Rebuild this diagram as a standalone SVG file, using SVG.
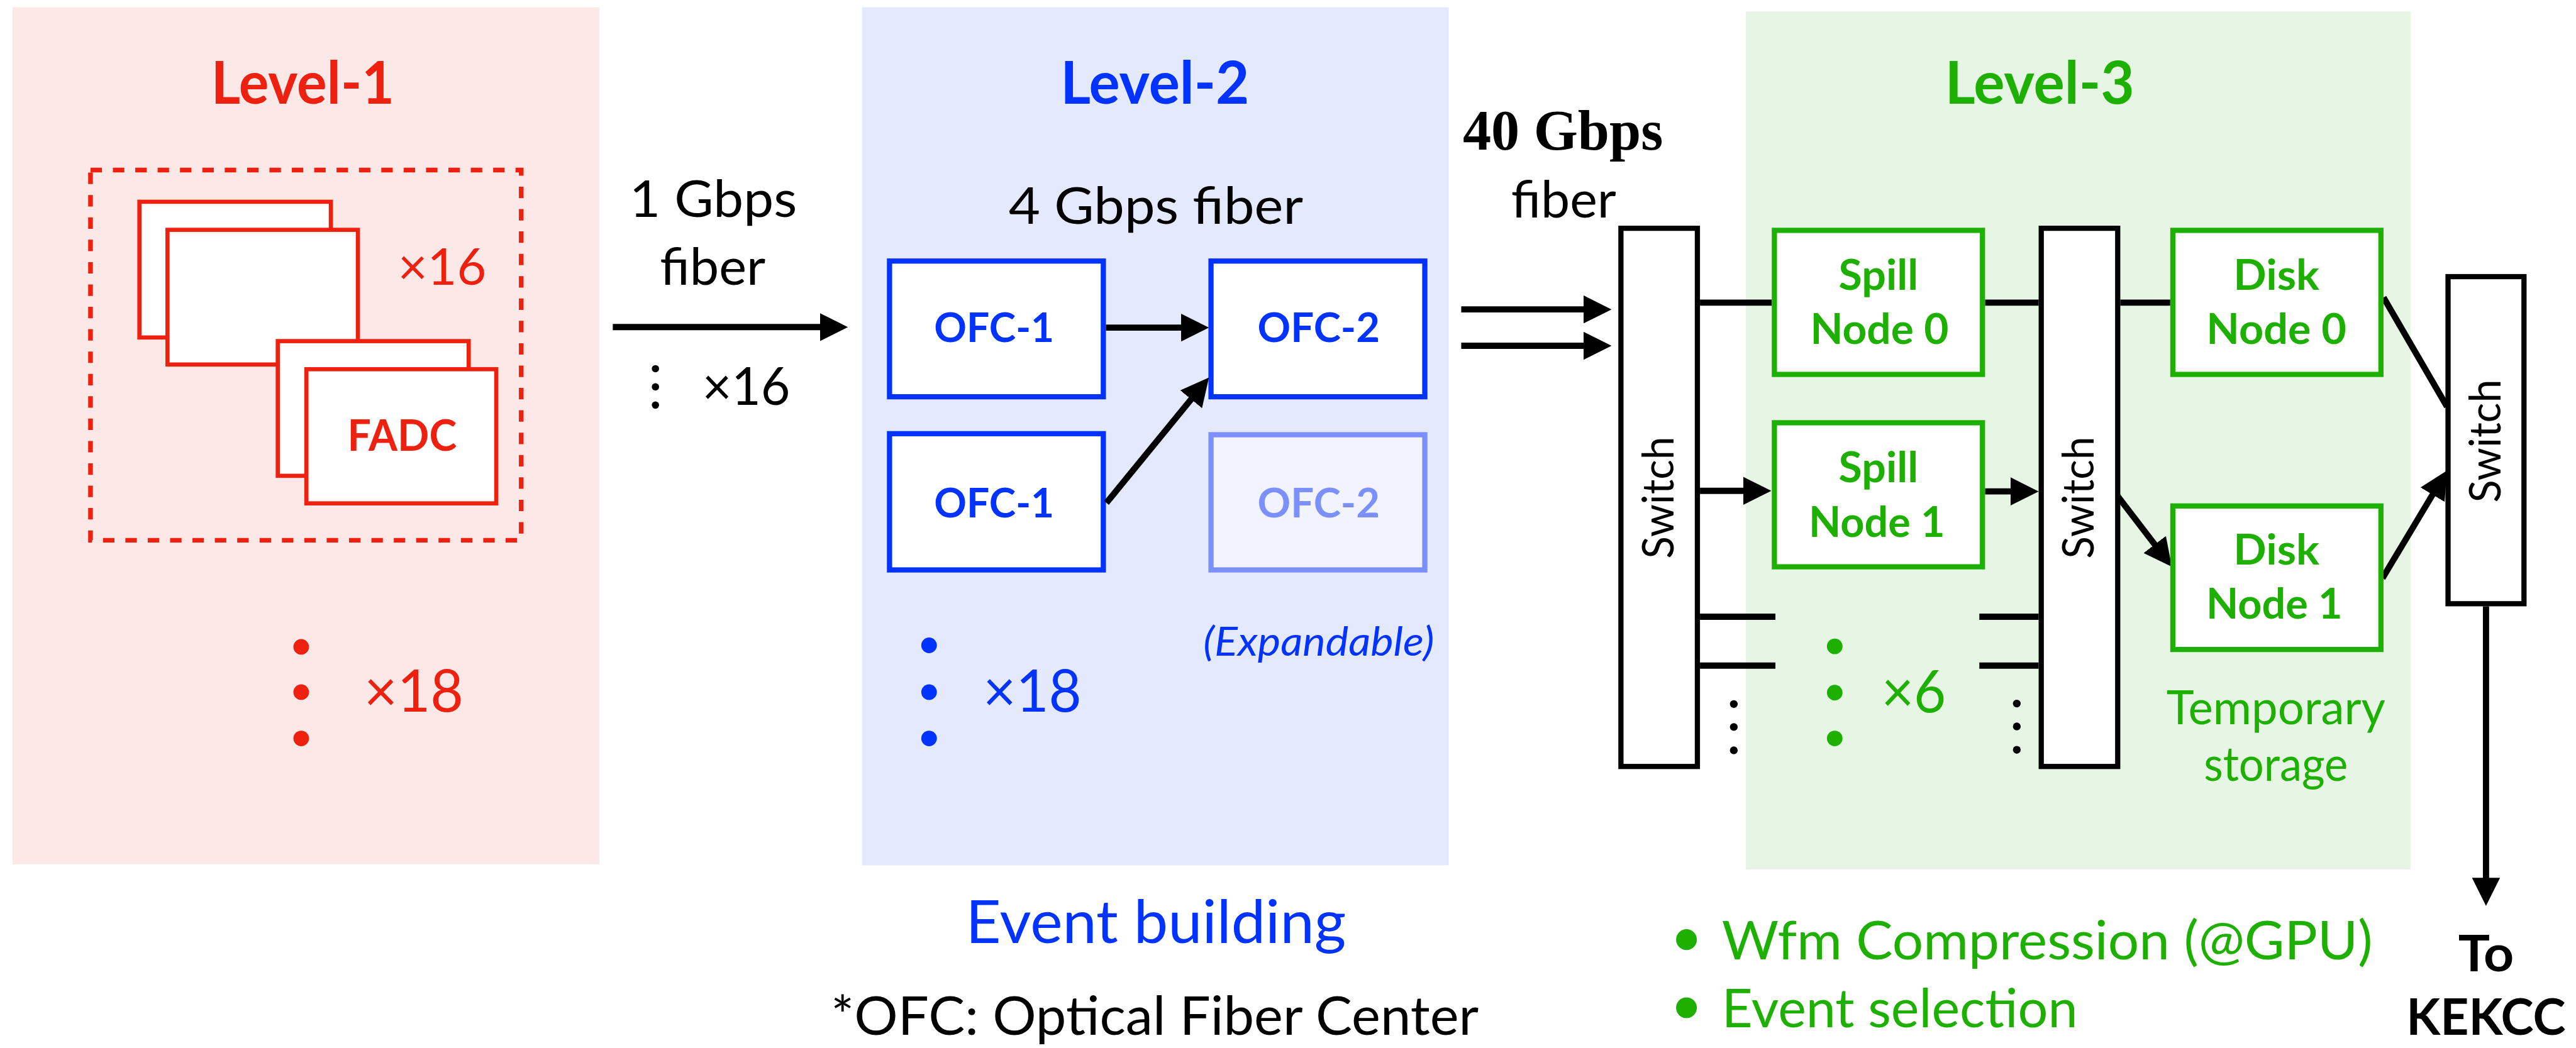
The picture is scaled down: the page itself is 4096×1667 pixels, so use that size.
<svg xmlns="http://www.w3.org/2000/svg" width="4096" height="1667" viewBox="0 0 4096 1667">
<style>
.t{font-family:Lato,"Open Sans","DejaVu Sans",sans-serif}
.b{font-weight:bold}
.i{font-style:italic}
.m{text-anchor:middle}
.red{fill:#ee2010}
.blue{fill:#0033ff}
.green{fill:#1eb000}
.blk{fill:#000}
.faded{fill:#7b8ffd}
.rbox{fill:#fff;stroke:#ee2010;stroke-width:8}
.bbox{fill:#fff;stroke:#0033ff;stroke-width:10}
.gbox{fill:#fff;stroke:#1eb000;stroke-width:10}
.sw{fill:#fff;stroke:#000;stroke-width:10}
.ln{stroke:#000;stroke-width:12;fill:none}
.ar{stroke:#000;stroke-width:12;fill:none;marker-end:url(#ah)}
</style>
<defs>
<marker id="ah" markerUnits="userSpaceOnUse" viewBox="0 0 54 54" refX="14" refY="27" markerWidth="54" markerHeight="54" orient="auto"><path d="M0,0 L54,27 L0,54 z" fill="#000"/></marker>
</defs>
<rect width="4096" height="1667" fill="#fff"/>
<g transform="scale(0.827141)">
<g id="level1">
<rect x="24" y="14" width="1128" height="1648" fill="#fce8e7"/>
<text class="t b m red" x="582" y="200" font-size="113" textLength="352" lengthAdjust="spacingAndGlyphs">Level-1</text>
<rect x="174" y="327" width="828" height="712" fill="none" stroke="#ee2010" stroke-width="9" stroke-dasharray="22 21"/>
<rect class="rbox" x="268" y="388" width="368" height="261"/>
<rect class="rbox" x="322" y="442" width="366" height="259"/>
<rect class="rbox" x="534" y="656" width="367" height="259"/>
<rect class="rbox" x="589" y="710" width="365" height="258"/>
<text class="t b m red" x="773" y="867" font-size="84" textLength="210" lengthAdjust="spacingAndGlyphs">FADC</text>
<text class="t red" x="765" y="548" font-size="98" textLength="170" lengthAdjust="spacingAndGlyphs">×16</text>
<circle class="red" cx="579" cy="1244" r="15"/>
<circle class="red" cx="579" cy="1331" r="15"/>
<circle class="red" cx="579" cy="1420" r="15"/>
<text class="t red" x="700" y="1368" font-size="112" textLength="191" lengthAdjust="spacingAndGlyphs">×18</text>
</g>
<g id="level2">
<rect x="1657" y="14" width="1128" height="1650" fill="#e4e9fd"/>
<text class="t b m blue" x="2220" y="200" font-size="113" textLength="363" lengthAdjust="spacingAndGlyphs">Level-2</text>
<text class="t m blk" x="2222" y="431" font-size="98" textLength="566" lengthAdjust="spacingAndGlyphs">4 Gbps fiber</text>
<text class="t i m blue" x="2535" y="1261" font-size="77" textLength="444" lengthAdjust="spacingAndGlyphs">(Expandable)</text>
<circle class="blue" cx="1786" cy="1241" r="15"/>
<circle class="blue" cx="1786" cy="1331" r="15"/>
<circle class="blue" cx="1786" cy="1420" r="15"/>
<text class="t blue" x="1890" y="1368" font-size="112" textLength="189" lengthAdjust="spacingAndGlyphs">×18</text>
</g>
<g id="ofc1a"><rect class="bbox" x="1710" y="502" width="411" height="261"/><text class="t b m blue" x="1911" y="658" font-size="78" textLength="231" lengthAdjust="spacingAndGlyphs">OFC-1</text></g>
<g id="ofc2a"><rect class="bbox" x="2328" y="502" width="411" height="261"/><text class="t b m blue" x="2535" y="658" font-size="78" textLength="235" lengthAdjust="spacingAndGlyphs">OFC-2</text></g>
<g id="ofc1b"><rect class="bbox" x="1710" y="834" width="411" height="262"/><text class="t b m blue" x="1911" y="995" font-size="78" textLength="231" lengthAdjust="spacingAndGlyphs">OFC-1</text></g>
<g id="ofc2b"><rect x="2328" y="836" width="411" height="260" fill="#f1f3fe" stroke="#7b8ffd" stroke-width="10"/><text class="t b m faded" x="2535" y="995" font-size="78" textLength="235" lengthAdjust="spacingAndGlyphs">OFC-2</text></g>
<g id="level3">
<rect x="3356" y="22" width="1278" height="1650" fill="#e7f6e4"/>
<text class="t b m green" x="3921" y="200" font-size="113" textLength="364" lengthAdjust="spacingAndGlyphs">Level-3</text>
<circle class="green" cx="3527" cy="1243" r="15"/>
<circle class="green" cx="3527" cy="1332" r="15"/>
<circle class="green" cx="3527" cy="1420" r="15"/>
<text class="t green" x="3617" y="1370" font-size="112" textLength="124" lengthAdjust="spacingAndGlyphs">×6</text>
<text class="t m green" x="4375" y="1393" font-size="91" textLength="421" lengthAdjust="spacingAndGlyphs">Temporary</text>
<text class="t m green" x="4375" y="1502" font-size="91" textLength="277" lengthAdjust="spacingAndGlyphs">storage</text>
</g>
<g id="connectors">
<line class="ar" x1="1178" y1="629" x2="1590" y2="629"/>
<line class="ar" x1="2126" y1="630" x2="2284" y2="630"/>
<line class="ar" x1="2127" y1="967" x2="2298.7" y2="757"/>
<line class="ar" x1="2809" y1="595" x2="3058" y2="595"/>
<line class="ar" x1="2809" y1="665" x2="3058" y2="665"/>
<line class="ln" x1="3268" y1="582" x2="3406" y2="582"/>
<line class="ln" x1="3816" y1="582" x2="3919" y2="582"/>
<line class="ln" x1="4076" y1="582" x2="4172" y2="582"/>
<line class="ar" x1="3268" y1="944" x2="3365" y2="944"/>
<line class="ar" x1="3816" y1="945" x2="3879" y2="945"/>
<line class="ar" x1="4070" y1="953" x2="4150.7" y2="1058.2"/>
<line class="ln" x1="4582" y1="572" x2="4704" y2="782"/>
<line class="ar" x1="4580" y1="1112" x2="4683.4" y2="939.3"/>
<line class="ar" x1="4779" y1="1166" x2="4779" y2="1702"/>
<line class="ln" x1="3268" y1="1186" x2="3413" y2="1186"/>
<line class="ln" x1="3268" y1="1280" x2="3413" y2="1280"/>
<line class="ln" x1="3805" y1="1186" x2="3919" y2="1186"/>
<line class="ln" x1="3805" y1="1280" x2="3919" y2="1280"/>
</g>
<g id="labels">
<text class="t m blk" x="1371" y="417" font-size="98" textLength="322" lengthAdjust="spacingAndGlyphs">1 Gbps</text>
<text class="t m blk" x="1370" y="548" font-size="98" textLength="203" lengthAdjust="spacingAndGlyphs">fiber</text>
<circle class="blk" cx="1260" cy="709" r="7"/>
<circle class="blk" cx="1260" cy="744" r="7"/>
<circle class="blk" cx="1260" cy="779" r="7"/>
<text class="t blk" x="1350" y="778" font-size="100" textLength="169" lengthAdjust="spacingAndGlyphs">×16</text>
<text class="blk" x="2812" y="288" font-family="'Liberation Serif',serif" font-weight="bold" font-size="109" textLength="385" lengthAdjust="spacingAndGlyphs">40 Gbps</text>
<text class="t blk" x="2905" y="418" font-size="98" textLength="202" lengthAdjust="spacingAndGlyphs">fiber</text>
<circle class="blk" cx="3333" cy="1354" r="7.5"/>
<circle class="blk" cx="3333" cy="1398" r="7.5"/>
<circle class="blk" cx="3333" cy="1443" r="7.5"/>
<circle class="blk" cx="3877" cy="1353" r="7.5"/>
<circle class="blk" cx="3877" cy="1397" r="7.5"/>
<circle class="blk" cx="3877" cy="1442" r="7.5"/>
<text class="t m blue" x="2222" y="1813" font-size="114" textLength="731" lengthAdjust="spacingAndGlyphs">Event building</text>
<text class="t m blk" x="2220" y="1990" font-size="102" textLength="1245" lengthAdjust="spacingAndGlyphs">*OFC: Optical Fiber Center</text>
<circle class="green" cx="3242" cy="1807" r="20"/>
<circle class="green" cx="3242" cy="1938" r="20"/>
<text class="t green" x="3310" y="1845" font-size="102" textLength="1251" lengthAdjust="spacingAndGlyphs">Wfm Compression (@GPU)</text>
<text class="t green" x="3310" y="1975" font-size="102" textLength="684" lengthAdjust="spacingAndGlyphs">Event selection</text>
<text class="t b m blk" x="4779" y="1868" font-size="98" textLength="107" lengthAdjust="spacingAndGlyphs">To</text>
<text class="t b m blk" x="4779" y="1990" font-size="98" textLength="306" lengthAdjust="spacingAndGlyphs">KEKCC</text>
</g>
<g id="switch1"><rect class="sw" x="3116" y="439" width="147" height="1035"/><text class="t m blk" transform="translate(3217,957) rotate(-90)" font-size="84" textLength="235" lengthAdjust="spacingAndGlyphs">Switch</text></g>
<g id="switch2"><rect class="sw" x="3924" y="439" width="147" height="1035"/><text class="t m blk" transform="translate(4025,957) rotate(-90)" font-size="84" textLength="235" lengthAdjust="spacingAndGlyphs">Switch</text></g>
<g id="switch3"><rect class="sw" x="4706" y="532" width="146" height="629"/><text class="t m blk" transform="translate(4807,848) rotate(-90)" font-size="84" textLength="237" lengthAdjust="spacingAndGlyphs">Switch</text></g>
<g id="spill0"><rect class="gbox" x="3411" y="443" width="400" height="277"/><text class="t b m green" x="3611" y="557" font-size="81" textLength="153" lengthAdjust="spacingAndGlyphs">Spill</text><text class="t b m green" x="3613" y="661" font-size="81" textLength="266" lengthAdjust="spacingAndGlyphs">Node 0</text></g>
<g id="spill1"><rect class="gbox" x="3411" y="813" width="400" height="277"/><text class="t b m green" x="3611" y="927" font-size="81" textLength="153" lengthAdjust="spacingAndGlyphs">Spill</text><text class="t b m green" x="3608" y="1032" font-size="81" textLength="262" lengthAdjust="spacingAndGlyphs">Node 1</text></g>
<g id="disk0"><rect class="gbox" x="4177" y="443" width="400" height="277"/><text class="t b m green" x="4376" y="557" font-size="81" textLength="165" lengthAdjust="spacingAndGlyphs">Disk</text><text class="t b m green" x="4376" y="661" font-size="81" textLength="269" lengthAdjust="spacingAndGlyphs">Node 0</text></g>
<g id="disk1"><rect class="gbox" x="4177" y="973" width="400" height="276"/><text class="t b m green" x="4376" y="1086" font-size="81" textLength="165" lengthAdjust="spacingAndGlyphs">Disk</text><text class="t b m green" x="4372" y="1190" font-size="81" textLength="262" lengthAdjust="spacingAndGlyphs">Node 1</text></g>
</g>
</svg>
